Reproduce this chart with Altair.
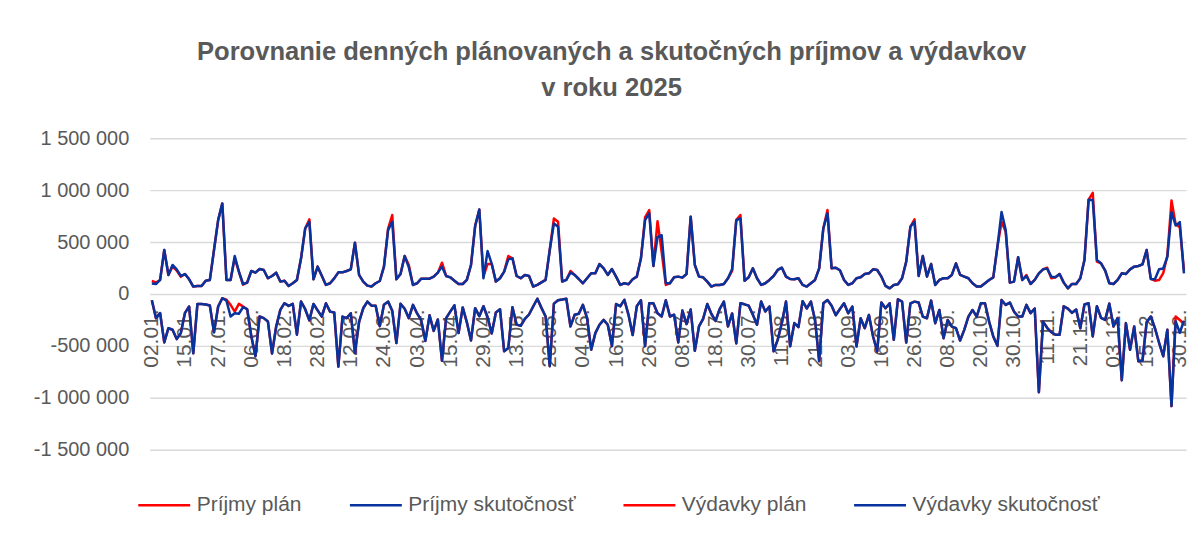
import pandas as pd
import altair as alt

# ---- categories: Slovak working days 2025 ----
holidays = ["2025-01-01", "2025-01-06", "2025-04-18", "2025-04-21", "2025-05-01",
            "2025-05-08", "2025-08-29", "2025-09-15", "2025-12-24", "2025-12-25",
            "2025-12-26"]
days = [d for d in pd.bdate_range("2025-01-01", "2025-12-31")
        if d.strftime("%Y-%m-%d") not in holidays]
date_labels = [d.strftime("%d.%m.") for d in days]
tick_labels = date_labels[::8]

series_names = ["Príjmy plán", "Príjmy skutočnosť", "Výdavky plán", "Výdavky skutočnosť"]
series_colors = ["#FF0000", "#06339E", "#FF0000", "#06339E"]
y_ticks = [-1500000, -1000000, -500000, 0, 500000, 1000000, 1500000]

# ---- values in thousand EUR ----
prijmy_skut = [
    100, 96, 135, 423, 183, 279, 237, 173, 192, 141, 71, 77, 77, 128, 135, 423, 711, 872, 135, 135,
    365, 215, 96, 109, 221, 205, 240, 231, 151, 173, 205, 119, 128, 77, 103, 135, 343, 631, 695, 141,
    263, 175, 87, 103, 150, 208, 208, 221, 237, 494, 183, 119, 80, 71, 103, 125, 263, 615, 695, 141,
    192, 365, 256, 87, 103, 147, 147, 147, 167, 205, 263, 173, 160, 128, 96, 96, 135, 279, 654, 814,
    151, 413, 290, 119, 151, 215, 333, 343, 173, 151, 183, 173, 71, 87, 112, 135, 423, 679, 647, 119,
    135, 205, 183, 144, 103, 151, 199, 199, 288, 247, 183, 240, 167, 87, 103, 93, 141, 167, 343, 711,
    776, 269, 550, 565, 103, 103, 160, 167, 157, 192, 744, 279, 167, 160, 119, 71, 87, 87, 96, 151,
    240, 711, 727, 128, 160, 247, 151, 87, 103, 135, 173, 231, 253, 167, 144, 141, 151, 87, 71, 103,
    135, 247, 631, 776, 247, 253, 228, 135, 87, 103, 151, 160, 192, 199, 237, 231, 167, 77, 54, 87,
    93, 151, 311, 647, 695, 173, 365, 167, 288, 87, 135, 151, 151, 183, 295, 183, 167, 151, 103, 71,
    71, 103, 135, 160, 455, 790, 615, 109, 119, 353, 135, 173, 96, 135, 199, 237, 244, 167, 160, 192,
    109, 54, 96, 96, 151, 327, 908, 905, 327, 295, 224, 103, 96, 135, 199, 192, 237, 263, 269, 285,
    423, 145, 141, 238, 245, 357, 788, 660, 692, 198,
]
prijmy_plan = [
    125, 110, 135, 423, 183, 265, 225, 165, 192, 141, 71, 77, 77, 128, 135, 423, 711, 872, 135, 135,
    345, 215, 90, 109, 221, 205, 240, 231, 151, 173, 205, 119, 128, 77, 103, 135, 343, 631, 718, 141,
    263, 175, 87, 103, 150, 208, 208, 221, 237, 494, 183, 119, 80, 71, 103, 125, 263, 630, 760, 141,
    192, 365, 279, 87, 103, 147, 147, 147, 167, 205, 301, 173, 160, 128, 96, 96, 135, 279, 654, 814,
    173, 288, 288, 119, 151, 215, 365, 343, 173, 151, 183, 173, 71, 87, 112, 135, 423, 727, 695, 119,
    135, 221, 183, 144, 103, 151, 199, 199, 288, 247, 183, 240, 167, 87, 103, 93, 141, 167, 343, 737,
    808, 269, 700, 405, 87, 103, 160, 167, 157, 192, 744, 279, 167, 160, 119, 71, 87, 87, 96, 151,
    221, 711, 760, 128, 160, 247, 151, 87, 103, 135, 173, 231, 253, 167, 144, 141, 151, 87, 71, 103,
    135, 247, 631, 808, 247, 253, 228, 135, 87, 103, 151, 160, 192, 199, 237, 231, 167, 77, 54, 87,
    93, 151, 311, 647, 718, 173, 365, 167, 288, 87, 135, 151, 151, 183, 295, 183, 167, 151, 103, 71,
    71, 103, 135, 160, 455, 692, 600, 109, 119, 353, 135, 183, 96, 135, 199, 237, 253, 151, 160, 192,
    109, 54, 96, 96, 151, 327, 908, 974, 311, 295, 224, 103, 96, 135, 199, 192, 237, 263, 269, 285,
    423, 145, 128, 134, 200, 370, 900, 670, 644, 230,
]
vydavky_skut = [
    -60, -233, -185, -467, -330, -345, -435, -377, -182, -121, -572, -96, -96, -102, -112, -370, -121, -41, -64, -217,
    -185, -191, -128, -147, -408, -600, -217, -233, -265, -574, -313, -153, -89, -115, -96, -392, -73, -147, -255, -96,
    -158, -218, -90, -170, -178, -700, -218, -233, -186, -569, -270, -138, -74, -113, -113, -310, -105, -74, -162, -473,
    -95, -142, -233, -105, -188, -255, -452, -206, -356, -246, -644, -233, -170, -110, -377, -130, -273, -448, -137, -214,
    -118, -225, -380, -178, -147, -553, -521, -128, -295, -307, -241, -198, -121, -46, -134, -217, -696, -93, -61, -54,
    -46, -313, -201, -190, -105, -233, -537, -377, -297, -250, -297, -502, -97, -118, -57, -201, -396, -118, -61, -502,
    -90, -90, -185, -217, -61, -217, -200, -467, -160, -290, -150, -548, -313, -240, -97, -193, -260, -145, -73, -313,
    -188, -476, -90, -100, -113, -201, -297, -73, -169, -121, -552, -440, -280, -73, -504, -281, -320, -70, -140, -74,
    -250, -648, -90, -58, -113, -205, -145, -90, -186, -122, -506, -234, -330, -202, -410, -554, -83, -138, -90, -442,
    -51, -74, -468, -90, -74, -83, -218, -234, -64, -282, -154, -426, -250, -314, -330, -449, -346, -218, -154, -218,
    -90, -90, -266, -410, -500, -58, -106, -83, -170, -217, -217, -105, -185, -140, -946, -266, -326, -369, -393, -393,
    -118, -142, -182, -150, -330, -101, -90, -409, -118, -230, -250, -93, -313, -233, -831, -281, -537, -313, -649, -641,
    -273, -217, -330, -470, -600, -345, -1080, -262, -374, -258,
]
vydavky_plan = [
    -60, -233, -185, -467, -330, -345, -435, -377, -182, -121, -572, -96, -96, -102, -112, -370, -121, -41, -55, -105,
    -170, -96, -120, -147, -408, -600, -217, -233, -265, -574, -313, -153, -89, -115, -96, -392, -73, -147, -255, -96,
    -158, -218, -90, -170, -178, -700, -218, -233, -186, -569, -270, -138, -74, -113, -113, -310, -105, -74, -162, -473,
    -95, -142, -233, -105, -188, -255, -452, -206, -356, -246, -644, -233, -170, -110, -377, -130, -273, -448, -137, -214,
    -118, -225, -380, -178, -147, -553, -521, -128, -295, -307, -241, -198, -121, -46, -134, -217, -696, -93, -61, -54,
    -46, -313, -201, -190, -105, -233, -537, -377, -297, -250, -297, -502, -97, -118, -57, -201, -396, -118, -61, -502,
    -90, -90, -185, -217, -61, -217, -200, -467, -160, -290, -150, -548, -313, -240, -97, -193, -260, -145, -73, -313,
    -188, -476, -90, -100, -113, -201, -297, -73, -169, -121, -552, -440, -280, -73, -504, -281, -320, -70, -140, -74,
    -250, -648, -90, -58, -113, -205, -145, -90, -186, -122, -506, -234, -330, -202, -410, -554, -83, -138, -90, -442,
    -51, -74, -468, -90, -74, -83, -218, -234, -64, -282, -154, -426, -250, -314, -330, -449, -346, -218, -154, -218,
    -90, -90, -266, -410, -500, -58, -106, -83, -170, -217, -217, -105, -185, -140, -946, -266, -326, -369, -393, -393,
    -118, -142, -182, -150, -330, -101, -90, -409, -118, -230, -250, -93, -313, -233, -831, -281, -537, -313, -649, -641,
    -273, -217, -330, -470, -600, -345, -1080, -218, -250, -288,
]

series_values = [prijmy_plan, prijmy_skut, vydavky_plan, vydavky_skut]
rows = []
for name, vals in zip(series_names, series_values):
    for d, v in zip(date_labels, vals):
        rows.append({"datum": d, "rad": name, "hodnota": v * 1000})
df = pd.DataFrame(rows)

FONT = "Liberation Sans"
GRAY = "#595959"

chart = alt.Chart(df).mark_line(strokeWidth=2.5, strokeJoin="round").encode(
    x=alt.X("datum:N", sort=date_labels, title=None,
            axis=alt.Axis(values=tick_labels, labelAngle=-90, offset=-156,
                          domain=False, ticks=False, grid=False,
                          labelFontSize=21, labelFont=FONT, labelColor=GRAY,
                          labelPadding=15, labelOverlap=False)),
    y=alt.Y("hodnota:Q", title=None,
            scale=alt.Scale(domain=[-1500000, 1500000], nice=False),
            axis=alt.Axis(values=y_ticks, domain=False, ticks=False,
                          gridColor="#D9D9D9", gridWidth=1.4,
                          labelFontSize=20, labelFont=FONT, labelColor=GRAY,
                          labelPadding=21,
                          labelExpr="(datum.value < 0 ? '-' : '') + replace(format(abs(datum.value), ','), /,/g, ' ')")),
    color=alt.Color("rad:N",
                    scale=alt.Scale(domain=series_names, range=series_colors),
                    legend=alt.Legend(title=None, orient="none", legendX=-13, legendY=340,
                                      direction="horizontal", symbolType="stroke",
                                      symbolSize=2704, symbolStrokeWidth=2.5,
                                      labelFontSize=21, labelFont=FONT, labelColor=GRAY,
                                      labelLimit=400,
                                      columnPadding=42, labelOffset=5)),
).properties(
    width=1038,
    height=312,
    padding={"left": 25, "top": 31, "right": 5, "bottom": 5},
    title=alt.Title(["Porovnanie denných plánovaných a skutočných príjmov a výdavkov", "v roku 2025"],
                    fontSize=25.6, font=FONT, fontWeight="bold", color=GRAY,
                    lineHeight=36, anchor="middle", frame="bounds", offset=27),
).configure_view(stroke=None)

chart.save("out.html", embed_options={"renderer": "svg", "actions": False})
